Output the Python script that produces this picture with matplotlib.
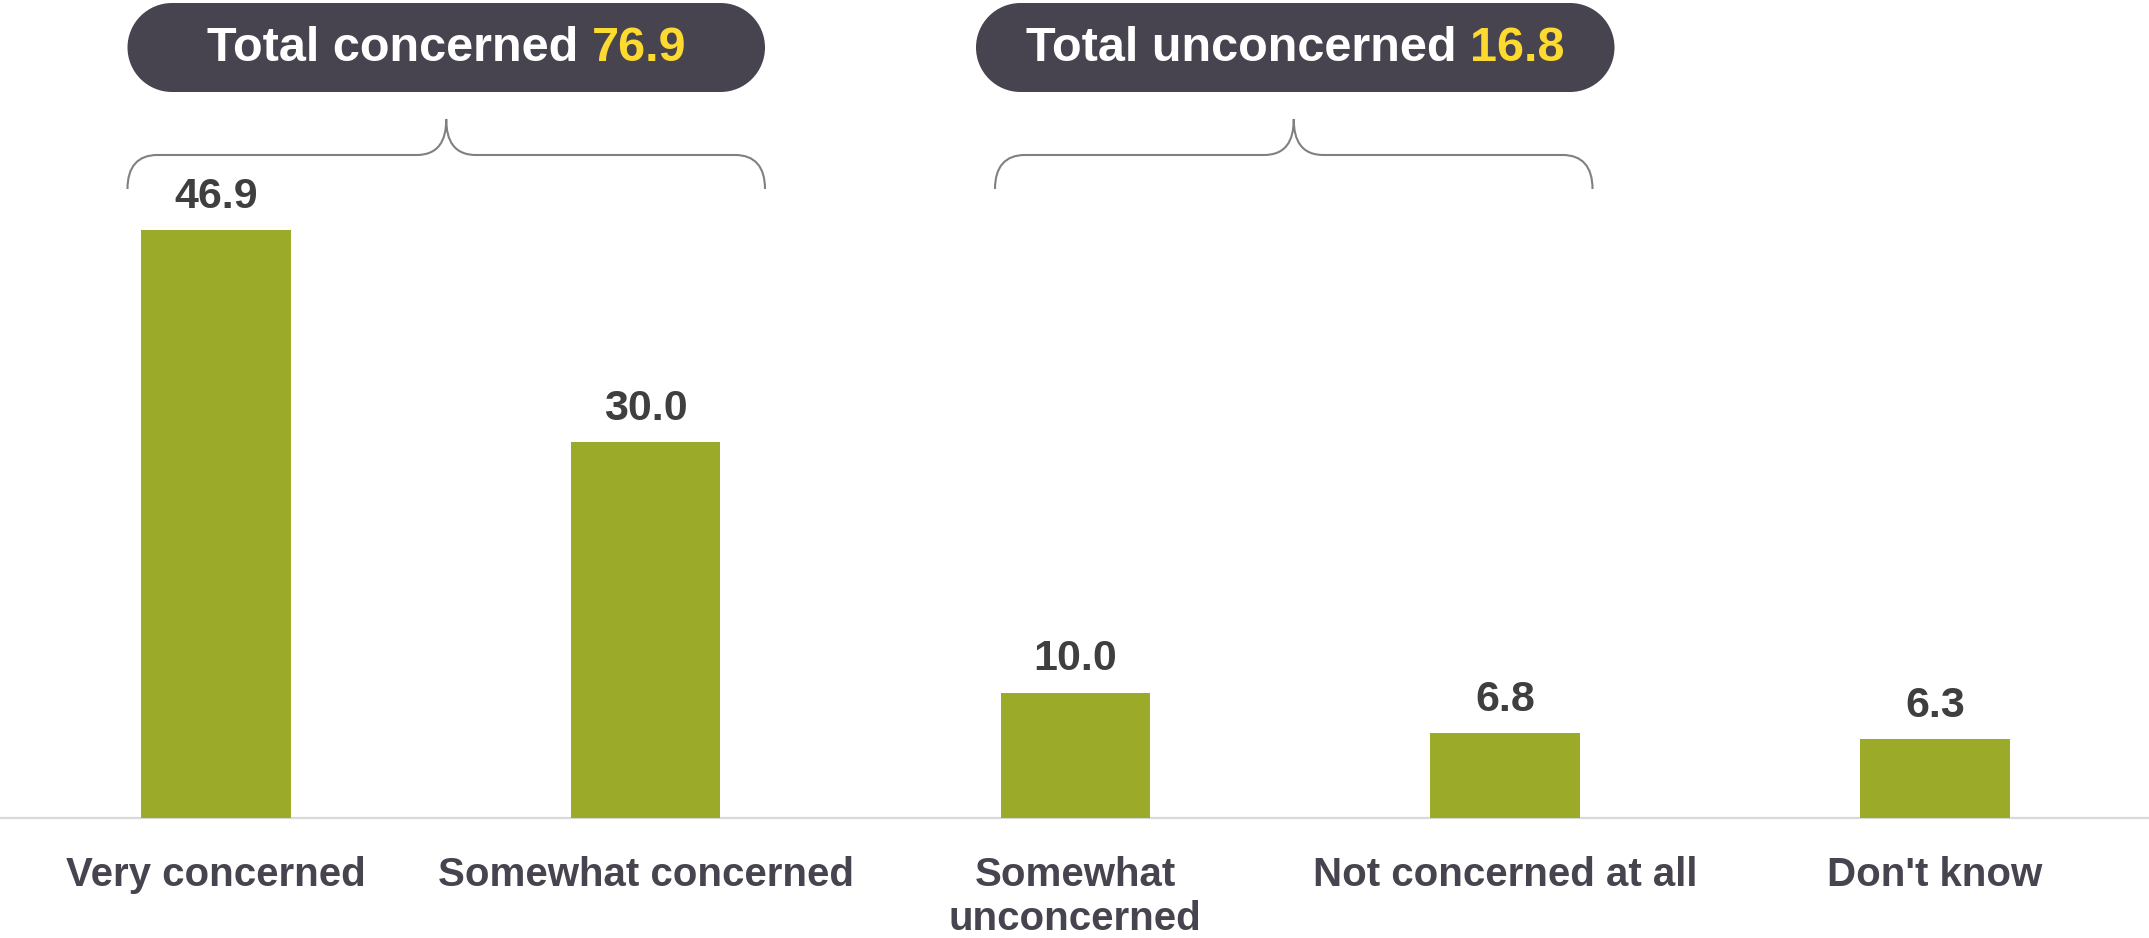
import matplotlib
matplotlib.use("Agg")
import matplotlib.pyplot as plt
from matplotlib.patches import Rectangle, Circle, PathPatch
from matplotlib.path import Path

categories = ["Very concerned", "Somewhat concerned", "Somewhat\nunconcerned",
              "Not concerned at all", "Don't know"]
values = [46.9, 30.0, 10.0, 6.8, 6.3]
group_labels = ["Total concerned ", "Total unconcerned "]
group_values = ["76.9", "16.8"]

W, H = 2149, 938
plt.rcParams['font.family'] = ['Liberation Sans', 'DejaVu Sans']
fig = plt.figure(figsize=(W / 100, H / 100), dpi=100)

BAR = "#9BAA29"
DARK = "#48444F"
YEL = "#FDDA2F"
VAL = "#3F3F3F"
CAT = "#48444F"

# main axes: baseline at y=818px, 12.53 px per unit
ax = fig.add_axes([0, (H - 818) / H, 1, 818 / H])
x = list(range(len(values)))
ax.bar(x, values, width=0.348, color=BAR, zorder=2)
ax.set_xlim(-0.502, 4.498)
ax.set_ylim(0, 818 / 12.53)
ax.axis('off')
ax.axhline(0, color="#D9D9D9", lw=1.6, zorder=1, clip_on=False)

for xi, v in zip(x, values):
    ax.annotate(f"{v:.1f}", (xi, v), xytext=(0, 16), textcoords='offset points',
                ha='center', va='baseline', fontsize=31, fontweight='bold', color=VAL)

for xi, c in zip(x, categories):
    ax.text(xi, -3.05, c, ha='center', va='top', fontsize=29, fontweight='bold',
            color=CAT, linespacing=1.19, clip_on=False)

# overlay in pixel coords for callouts and braces
ov = fig.add_axes([0, 0, 1, 1], facecolor='none')
ov.set_xlim(0, W)
ov.set_ylim(H, 0)
ov.axis('off')

pills = [(127.5, 765.0), (976.0, 1614.5)]
braces = [(127.5, 765.0), (995.0, 1592.5)]
ptop, pbot = 3.0, 92.0

for (x0, x1), lab, val in zip(pills, group_labels, group_values):
    h = pbot - ptop
    rr = h / 2
    cyp = (ptop + pbot) / 2
    ov.add_patch(Rectangle((x0 + rr, ptop), x1 - x0 - 2 * rr, h, fc=DARK, ec='none'))
    ov.add_patch(Circle((x0 + rr, cyp), rr, fc=DARK, ec='none'))
    ov.add_patch(Circle((x1 - rr, cyp), rr, fc=DARK, ec='none'))
    cx = (x0 + x1) / 2
    cy = cyp + 1
    t1 = ov.text(0, 0, lab, fontsize=35, fontweight='bold', color='white',
                 ha='left', va='center')
    t2 = ov.text(0, 0, val, fontsize=35, fontweight='bold', color=YEL,
                 ha='left', va='center')
    fig.canvas.draw()
    r = fig.canvas.get_renderer()
    w1 = t1.get_window_extent(r).width
    w2 = t2.get_window_extent(r).width
    start = cx - (w1 + w2) / 2
    t1.set_position((start, cy))
    t2.set_position((start + w1, cy))

yb, yh, yt = 189.0, 155.0, 119.0
for (x0, x1) in braces:
    xt = (x0 + x1) / 2
    rw = 30.0
    verts = [
        (x0, yb),
        (x0, yh + 12), (x0 + 10, yh), (x0 + rw, yh),
        (xt - rw, yh),
        (xt - 8, yh), (xt, yh - 14), (xt, yt),
        (xt, yh - 14), (xt + 8, yh), (xt + rw, yh),
        (x1 - rw, yh),
        (x1 - 10, yh), (x1, yh + 12), (x1, yb),
    ]
    codes = [Path.MOVETO,
             Path.CURVE4, Path.CURVE4, Path.CURVE4,
             Path.LINETO,
             Path.CURVE4, Path.CURVE4, Path.CURVE4,
             Path.CURVE4, Path.CURVE4, Path.CURVE4,
             Path.LINETO,
             Path.CURVE4, Path.CURVE4, Path.CURVE4]
    ov.add_patch(PathPatch(Path(verts, codes), fc='none', ec="#808080", lw=1.5))

fig.savefig("out.png", dpi=100)
